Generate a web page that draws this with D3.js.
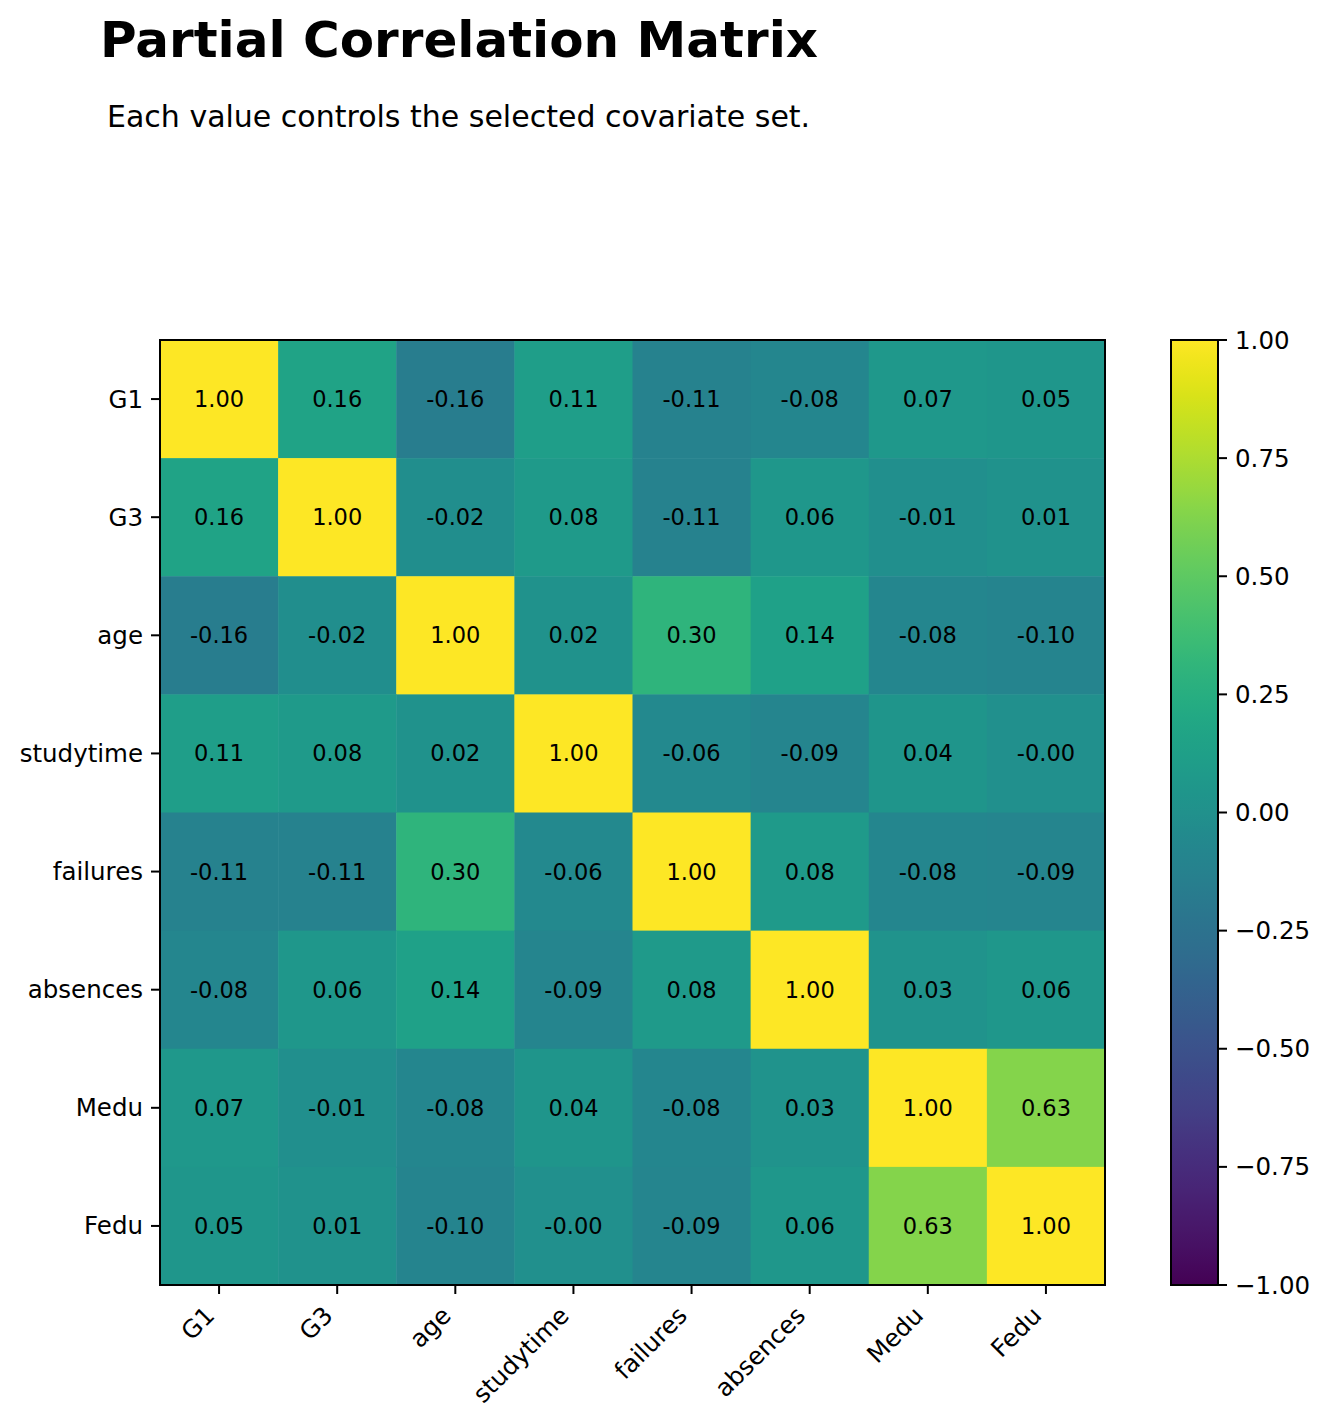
<!DOCTYPE html>
<html><head><meta charset="utf-8">
<script src="https://cdn.jsdelivr.net/npm/d3@7"></script>
<style>body{margin:0;background:#fff}svg{display:block;font-family:"DejaVu Sans",sans-serif}</style>
</head><body><svg id="c" width="1331" height="1426"></svg>
<script>
const variables = ["G1","G3","age","studytime","failures","absences","Medu","Fedu"];
const rowG1        = [1.00, 0.16, -0.16, 0.11, -0.11, -0.08, 0.07, 0.05];
const rowG3        = [0.16, 1.00, -0.02, 0.08, -0.11, 0.06, -0.01, 0.01];
const rowAge       = [-0.16, -0.02, 1.00, 0.02, 0.30, 0.14, -0.08, -0.10];
const rowStudytime = [0.11, 0.08, 0.02, 1.00, -0.06, -0.09, 0.04, -0.003];
const rowFailures  = [-0.11, -0.11, 0.30, -0.06, 1.00, 0.08, -0.08, -0.09];
const rowAbsences  = [-0.08, 0.06, 0.14, -0.09, 0.08, 1.00, 0.03, 0.06];
const rowMedu      = [0.07, -0.01, -0.08, 0.04, -0.08, 0.03, 1.00, 0.63];
const rowFedu      = [0.05, 0.01, -0.10, -0.003, -0.09, 0.06, 0.63, 1.00];
const matrix = [rowG1,rowG3,rowAge,rowStudytime,rowFailures,rowAbsences,rowMedu,rowFedu];
const colorbarTicks = [1.00,0.75,0.50,0.25,0.00,-0.25,-0.50,-0.75,-1.00];
const titleText = "Partial Correlation Matrix";
const subtitleText = "Each value controls the selected covariate set.";

const svg = d3.select("#c");
const L = 160, T = 340, W = 945, H = 945;
const x = d3.scaleBand().domain(variables).range([L, L+W]);
const y = d3.scaleBand().domain(variables).range([T, T+H]);
const color = d3.scaleSequential(d3.interpolateViridis).domain([-1, 1]);

svg.append("text").attr("x",100).attr("y",57).attr("font-size",50).attr("font-weight","bold").text(titleText);
svg.append("text").attr("x",107).attr("y",127).attr("font-size",30).text(subtitleText);

const cells = [];
matrix.forEach((row,i)=>row.forEach((v,j)=>cells.push({r:variables[i],c:variables[j],v})));
svg.append("g").selectAll("rect").data(cells).join("rect")
  .attr("x",d=>x(d.c)).attr("y",d=>y(d.r))
  .attr("width",x.bandwidth()+0.5).attr("height",y.bandwidth()+0.5)
  .attr("fill",d=>color(d.v));
svg.append("g").selectAll("text").data(cells).join("text")
  .attr("x",d=>x(d.c)+x.bandwidth()/2).attr("y",d=>y(d.r)+y.bandwidth()/2)
  .attr("text-anchor","middle").attr("dominant-baseline","central")
  .attr("font-size",22.5).attr("fill","#000")
  .text(d=>d.v.toFixed(2));

svg.append("rect").attr("x",L).attr("y",T).attr("width",W).attr("height",H)
  .attr("fill","none").attr("stroke","#000").attr("stroke-width",2);

// y axis
const yAxis = svg.append("g");
variables.forEach(v=>{
  const cy = y(v)+y.bandwidth()/2;
  yAxis.append("line").attr("x1",L).attr("x2",L-9).attr("y1",cy).attr("y2",cy).attr("stroke","#000").attr("stroke-width",2);
  yAxis.append("text").attr("x",L-17).attr("y",cy).attr("text-anchor","end").attr("dominant-baseline","central")
    .attr("font-size",24.5).text(v);
});
// x axis
const xAxis = svg.append("g");
variables.forEach(v=>{
  const cx = x(v)+x.bandwidth()/2;
  xAxis.append("line").attr("x1",cx).attr("x2",cx).attr("y1",T+H).attr("y2",T+H+9).attr("stroke","#000").attr("stroke-width",2);
  xAxis.append("text").attr("transform",`translate(${cx-3},${T+H+17+15}) rotate(-45)`)
    .attr("text-anchor","end").attr("font-size",24.5).text(v);
});

// colorbar
const CX = 1171, CW = 47;
const cy = d3.scaleLinear().domain([-1,1]).range([T+H, T]);
const defs = svg.append("defs");
const grad = defs.append("linearGradient").attr("id","vir").attr("x1",0).attr("y1",1).attr("x2",0).attr("y2",0);
d3.range(0,1.0001,0.02).forEach(t=>grad.append("stop").attr("offset",t).attr("stop-color",d3.interpolateViridis(t)));
svg.append("rect").attr("x",CX).attr("y",T).attr("width",CW).attr("height",H).attr("fill","url(#vir)")
  .attr("stroke","#000").attr("stroke-width",2);
const fmt = v => (v<0?"\u2212":"") + Math.abs(v).toFixed(2);
colorbarTicks.forEach(t=>{
  const ty = cy(t);
  svg.append("line").attr("x1",CX+CW).attr("x2",CX+CW+9).attr("y1",ty).attr("y2",ty).attr("stroke","#000").attr("stroke-width",2);
  svg.append("text").attr("x",CX+CW+17).attr("y",ty).attr("dominant-baseline","central").attr("font-size",24.5).text(fmt(t));
});
</script></body></html>
